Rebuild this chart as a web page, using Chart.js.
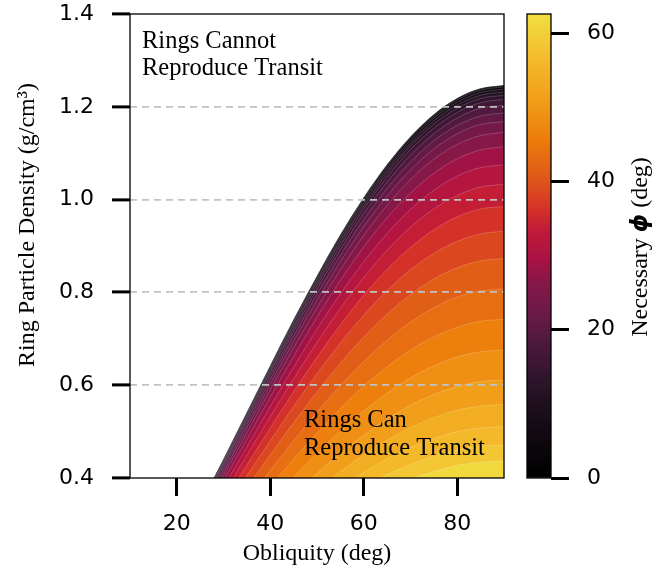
<!DOCTYPE html>
<html>
<head>
<meta charset="utf-8">
<script src="https://cdn.jsdelivr.net/npm/chart.js@4.4.1/dist/chart.umd.min.js"></script>
<style>
  html, body { margin: 0; padding: 0; background: #ffffff; }
  #wrap { position: relative; width: 654px; height: 573px; }
  #wrap canvas { position: absolute; left: 0; top: 0; }
</style>
</head>
<body>
<div id="wrap">
  <canvas id="main" width="654" height="573"></canvas>
  <canvas id="cbar" width="654" height="573"></canvas>
</div>
<script>
// Obliquity columns (deg) at which every contour is tabulated
const obliquity = [25, 30, 35, 40, 45, 50, 55, 60, 65, 70, 75, 80, 85, 90];

// Contour levels of the necessary phi (deg)
const phiLevels = [0, 2.5, 5, 7.5, 10, 12.5, 15, 17.5, 20, 22.5, 25, 27.5, 30,
                   32.5, 35, 37.5, 40, 42.5, 45, 47.5, 50, 52.5, 55, 57.5, 60];

// Largest phi reached inside the plotted window (bottom-right corner)
const phiCorner = 62.6;

// Ring particle density (g/cm^3) along each contour, one row per level
const contourDensity = [
  [0.343, 0.441, 0.542, 0.643, 0.742, 0.836, 0.925, 1.005, 1.076, 1.136, 1.184, 1.219, 1.240, 1.247],
  [0.342, 0.441, 0.541, 0.642, 0.741, 0.835, 0.924, 1.004, 1.075, 1.135, 1.183, 1.218, 1.239, 1.246],
  [0.342, 0.440, 0.540, 0.641, 0.739, 0.834, 0.922, 1.002, 1.073, 1.133, 1.180, 1.215, 1.236, 1.243],
  [0.340, 0.438, 0.538, 0.638, 0.736, 0.830, 0.918, 0.998, 1.068, 1.128, 1.176, 1.210, 1.231, 1.238],
  [0.339, 0.436, 0.535, 0.635, 0.733, 0.826, 0.913, 0.993, 1.063, 1.122, 1.170, 1.204, 1.225, 1.232],
  [0.336, 0.433, 0.532, 0.631, 0.728, 0.821, 0.908, 0.987, 1.057, 1.116, 1.163, 1.197, 1.218, 1.225],
  [0.334, 0.430, 0.528, 0.627, 0.723, 0.815, 0.901, 0.980, 1.049, 1.108, 1.154, 1.188, 1.209, 1.216],
  [0.331, 0.426, 0.523, 0.620, 0.716, 0.807, 0.892, 0.970, 1.038, 1.096, 1.142, 1.176, 1.197, 1.203],
  [0.326, 0.420, 0.516, 0.612, 0.706, 0.796, 0.880, 0.957, 1.024, 1.081, 1.127, 1.160, 1.180, 1.187],
  [0.321, 0.413, 0.508, 0.602, 0.695, 0.783, 0.866, 0.942, 1.008, 1.064, 1.109, 1.142, 1.162, 1.168],
  [0.315, 0.405, 0.497, 0.590, 0.681, 0.767, 0.849, 0.923, 0.988, 1.043, 1.087, 1.119, 1.138, 1.145],
  [null,  0.394, 0.484, 0.574, 0.662, 0.747, 0.826, 0.898, 0.961, 1.014, 1.057, 1.088, 1.107, 1.114],
  [null,  0.380, 0.467, 0.554, 0.639, 0.721, 0.797, 0.866, 0.927, 0.979, 1.020, 1.051, 1.069, 1.075],
  [null,  0.365, 0.449, 0.532, 0.614, 0.692, 0.766, 0.832, 0.891, 0.941, 0.980, 1.009, 1.027, 1.033],
  [null,  0.348, 0.428, 0.508, 0.586, 0.660, 0.730, 0.794, 0.850, 0.897, 0.935, 0.963, 0.980, 0.985],
  [null,  0.329, 0.405, 0.480, 0.554, 0.625, 0.691, 0.751, 0.804, 0.849, 0.884, 0.910, 0.926, 0.932],
  [null,  null,  0.379, 0.450, 0.519, 0.585, 0.647, 0.704, 0.753, 0.795, 0.829, 0.853, 0.868, 0.873],
  [null,  null,  0.351, 0.416, 0.480, 0.542, 0.599, 0.651, 0.697, 0.736, 0.767, 0.790, 0.803, 0.808],
  [null,  null,  null,  0.382, 0.441, 0.497, 0.550, 0.598, 0.640, 0.676, 0.704, 0.725, 0.738, 0.742],
  [null,  null,  null,  0.348, 0.402, 0.453, 0.501, 0.545, 0.583, 0.616, 0.642, 0.661, 0.672, 0.676],
  [null,  null,  null,  null,  0.363, 0.410, 0.453, 0.492, 0.527, 0.557, 0.580, 0.597, 0.608, 0.611],
  [null,  null,  null,  null,  null,  0.375, 0.414, 0.450, 0.482, 0.509, 0.530, 0.546, 0.555, 0.559],
  [null,  null,  null,  null,  null,  null,  0.379, 0.412, 0.441, 0.466, 0.485, 0.500, 0.508, 0.511],
  [null,  null,  null,  null,  null,  null,  null,  0.380, 0.407, 0.429, 0.447, 0.461, 0.469, 0.471],
  [null,  null,  null,  null,  null,  null,  null,  null,  0.377, 0.398, 0.414, 0.427, 0.434, 0.437]
];

// Axis ticks
const xTicks = [20, 40, 60, 80];
const yTicks = [0.4, 0.6, 0.8, 1.0, 1.2, 1.4];
const cbarTicks = [0, 20, 40, 60];
const phiMax = 62.6;

// Colour map: phi value -> colour
const cmapStops  = [0, 7.5, 12.5, 17.5, 21.9, 26.3, 29.4, 33.2, 36.3, 40.7, 45.7, 52, 57.6, 62.6];
const cmapColors = ['#000000', '#150c16', '#2a1428', '#48183c', '#681a48', '#861848', '#a81244',
                    '#c01a3a', '#d43228', '#e05a18', '#ec7c0c', '#f2a41c', '#f4c030', '#f0e040'];

const SERIF = '"Liberation Serif", "DejaVu Serif", serif';
const SANS = '"DejaVu Sans", sans-serif';
const TICK_FONT = { family: SANS, size: 22 };

function hexRgb(h) {
  const n = parseInt(h.slice(1), 16);
  return [(n >> 16) & 255, (n >> 8) & 255, n & 255];
}
function cmap(v) {
  if (v <= cmapStops[0]) return cmapColors[0];
  const last = cmapStops.length - 1;
  if (v >= cmapStops[last]) return cmapColors[last];
  let i = 0;
  while (v > cmapStops[i + 1]) i++;
  const t = (v - cmapStops[i]) / (cmapStops[i + 1] - cmapStops[i]);
  const a = hexRgb(cmapColors[i]), b = hexRgb(cmapColors[i + 1]);
  const c = a.map((ai, k) => Math.round(ai + (b[k] - ai) * t));
  return 'rgb(' + c.join(',') + ')';
}

// One filled line per contour level; higher levels sit on top of lower ones
const contourSets = phiLevels.map((phi, i) => {
  const row = contourDensity[i];
  const pts = [];
  obliquity.forEach((x, j) => { if (row[j] !== null) pts.push({ x: x, y: row[j] }); });
  const upper = i + 1 < phiLevels.length ? phiLevels[i + 1] : phiCorner;
  return {
    label: 'phi ' + phi,
    data: pts,
    fill: 'start',
    backgroundColor: cmap((phi + upper) / 2),
    borderColor: 'rgba(255,255,255,0.24)',
    borderWidth: 0.8,
    pointRadius: 0,
    cubicInterpolationMode: 'monotone',
    order: phiLevels.length - i
  };
});

// Vertical axes: keep the plot box fixed instead of reserving room for label overhang
function fixVertical(width) {
  return s => { s.width = width; s.paddingTop = 0; s.paddingBottom = 0; };
}

// Axes frame drawn over the filled area
const frame = {
  id: 'frame',
  afterDraw(chart) {
    const { ctx, chartArea: a } = chart;
    ctx.save();
    ctx.strokeStyle = '#000';
    ctx.lineWidth = 1.3;
    ctx.strokeRect(a.left, a.top, a.right - a.left, a.bottom - a.top);
    ctx.restore();
  }
};

// Rotated density title and the two region captions
const mainText = {
  id: 'mainText',
  afterDraw(chart) {
    const { ctx } = chart;
    ctx.save();
    ctx.fillStyle = '#000';
    ctx.font = '24px ' + SERIF;
    ctx.textAlign = 'center';
    ctx.textBaseline = 'middle';
    ctx.translate(28, 225);
    ctx.rotate(-Math.PI / 2);
    ctx.fillText('Ring Particle Density (g/cm\u00b3)', 0, 0);
    ctx.restore();

    ctx.save();
    ctx.fillStyle = '#000';
    ctx.font = '24.5px ' + SERIF;
    ctx.textAlign = 'left';
    ctx.textBaseline = 'alphabetic';
    ctx.fillText('Rings Cannot', 142, 48);
    ctx.fillText('Reproduce Transit', 142, 75);
    ctx.fillText('Rings Can', 304, 427);
    ctx.fillText('Reproduce Transit', 304, 455);
    ctx.restore();
  }
};

new Chart(document.getElementById('main'), {
  type: 'line',
  data: { datasets: contourSets },
  options: {
    responsive: false,
    animation: false,
    events: [],
    layout: { padding: { left: 0, top: 14, right: 150, bottom: 0 } },
    plugins: { legend: { display: false }, tooltip: { enabled: false } },
    scales: {
      x: {
        type: 'linear', min: 10, max: 90,
        afterBuildTicks: s => { s.ticks = xTicks.map(v => ({ value: v })); },
        afterFit: s => { s.height = 95; },
        grid: { drawOnChartArea: false, tickLength: 18, tickWidth: 3, tickColor: '#000' },
        border: { display: false },
        ticks: { font: TICK_FONT, color: '#000', padding: 15, maxRotation: 0 },
        title: { display: true, text: 'Obliquity (deg)', color: '#000',
                 font: { family: SERIF, size: 24 }, padding: { top: 0, bottom: 5 } }
      },
      y: {
        type: 'linear', min: 0.4, max: 1.4,
        afterBuildTicks: s => { s.ticks = yTicks.map(v => ({ value: v })); },
        afterFit: fixVertical(130),
        grid: {
          z: 1,
          color: c => (c.tick && c.tick.value > 0.45 && c.tick.value < 1.35) ? '#c2c2c2' : 'rgba(0,0,0,0)',
          lineWidth: 1.8, tickLength: 18, tickWidth: 3, tickColor: '#000'
        },
        border: { display: false, dash: [7, 5] },
        ticks: { font: TICK_FONT, color: '#000', padding: 18,
                 callback: v => Number(v).toFixed(1) }
      }
    }
  },
  plugins: [frame, mainText]
});

// Colour bar: one floating bar spanning the phi range, painted with the colour map
const cbarTitle = {
  id: 'cbarTitle',
  afterDraw(chart) {
    const { ctx } = chart;
    const parts = [
      { t: 'Necessary ', f: '24px ' + SERIF },
      { t: '\u03d5', f: 'italic bold 23px ' + SANS },
      { t: ' (deg)', f: '24px ' + SERIF }
    ];
    ctx.save();
    let total = 0;
    parts.forEach(p => { ctx.font = p.f; p.w = ctx.measureText(p.t).width; total += p.w; });
    ctx.translate(641, 247);
    ctx.rotate(-Math.PI / 2);
    ctx.fillStyle = '#000';
    ctx.textBaseline = 'middle';
    ctx.textAlign = 'left';
    let x = -total / 2;
    parts.forEach(p => { ctx.font = p.f; ctx.fillText(p.t, x, 0); x += p.w; });
    ctx.restore();
  }
};

new Chart(document.getElementById('cbar'), {
  type: 'bar',
  data: {
    labels: [''],
    datasets: [{
      data: [[0, phiMax]],
      backgroundColor: c => {
        const chart = c.chart;
        if (!chart.chartArea) return 'rgba(0,0,0,0)';
        const y = chart.scales.y;
        const g = chart.ctx.createLinearGradient(0, y.getPixelForValue(0), 0, y.getPixelForValue(phiMax));
        cmapStops.forEach((v, i) => g.addColorStop(v / phiMax, cmapColors[i]));
        return g;
      },
      borderWidth: 0,
      barPercentage: 1,
      categoryPercentage: 1
    }]
  },
  options: {
    responsive: false,
    animation: false,
    events: [],
    layout: { padding: { left: 527, top: 14, right: 0, bottom: 95 } },
    plugins: { legend: { display: false }, tooltip: { enabled: false } },
    scales: {
      x: { display: false },
      y: {
        position: 'right', min: 0, max: phiMax,
        afterBuildTicks: s => { s.ticks = cbarTicks.map(v => ({ value: v })); },
        afterFit: fixVertical(103),
        grid: { drawOnChartArea: false, tickLength: 18, tickWidth: 3, tickColor: '#000' },
        border: { display: false },
        ticks: { font: TICK_FONT, color: '#000', padding: 18 }
      }
    }
  },
  plugins: [frame, cbarTitle]
});
</script>
</body>
</html>
